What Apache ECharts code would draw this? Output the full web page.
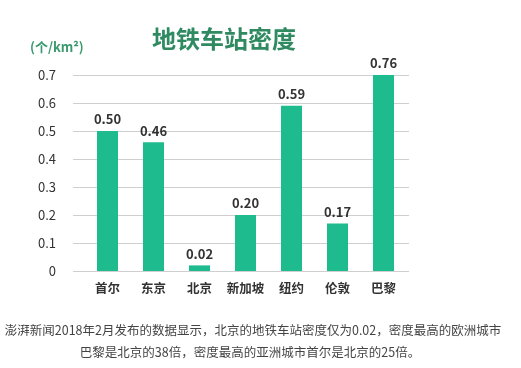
<!DOCTYPE html>
<html><head><meta charset="utf-8">
<script src="https://cdn.jsdelivr.net/npm/echarts@6/dist/echarts.min.js"></script>
<style>html,body{margin:0;padding:0;background:#fff}#c{width:521px;height:368px}</style>
</head><body><div id="c"></div>
<script>
const categories = ['首尔','东京','北京','新加坡','纽约','伦敦','巴黎'];
const density = [0.50, 0.46, 0.02, 0.20, 0.59, 0.17, 0.76];
const yTicks = [0, 0.1, 0.2, 0.3, 0.4, 0.5, 0.6, 0.7];
const titleText = '地铁车站密度';
const unitText = '(个/km²)';
const captionLines = ['澎湃新闻2018年2月发布的数据显示，北京的地铁车站密度仅为0.02，密度最高的欧洲城市','巴黎是北京的38倍，密度最高的亚洲城市首尔是北京的25倍。'];

const font = '"Noto Sans CJK SC", "Noto Sans", sans-serif';
const chart = echarts.init(document.getElementById('c'), null, {renderer:'canvas'});
chart.setOption({
  animation:false,
  backgroundColor:'#fff',
  textStyle:{fontFamily:font},
  graphic:[
    {type:'text', x:224, y:39, style:{text:titleText, align:'center', verticalAlign:'middle',
      fontSize:24, fontWeight:'bold', fontFamily:font, fill:'#2f8a62'}},
    {type:'text', x:30, y:47, style:{text:unitText, align:'left', verticalAlign:'middle',
      fontSize:13, fontWeight:'bold', fontFamily:font, fill:'#3a9a6e'}},
    {type:'text', x:253, y:330, style:{text:captionLines[0], align:'center', verticalAlign:'middle',
      fontSize:12.5, fontWeight:'normal', fontFamily:font, fill:'#444'}},
    {type:'text', x:250, y:352, style:{text:captionLines[1], align:'center', verticalAlign:'middle',
      fontSize:12.5, fontWeight:'normal', fontFamily:font, fill:'#444'}}
  ],
  grid:[
    {left:73, right:112, top:75, bottom:97},
    {left:84.5, right:114.5, top:75, bottom:97}
  ],
  xAxis:[
    {gridIndex:0, type:'category', data:categories, show:false},
    {gridIndex:1, type:'category', data:categories,
     axisLine:{show:false}, axisTick:{show:false},
     axisLabel:{interval:0, margin:11, fontSize:12.5, fontWeight:'bold', color:'#333', fontFamily:font}}
  ],
  yAxis:[
    {gridIndex:0, type:'value', min:0, max:0.7, interval:0.1,
     axisLine:{show:false}, axisTick:{show:false},
     axisLabel:{margin:17, fontSize:13, color:'#333', fontFamily:font,
       formatter:v=>{const t=yTicks.find(x=>Math.abs(x-v)<1e-9); return t===0?'0':(t!==undefined?t.toFixed(1):'');}},
     splitLine:{lineStyle:{color:'#cfcfcf', width:1}}},
    {gridIndex:1, type:'value', min:0, max:0.7, interval:0.1, show:false, splitLine:{show:false}}
  ],
  series:[{
    type:'bar', xAxisIndex:1, yAxisIndex:1, data:density, barWidth:21, clip:true,
    itemStyle:{color:'#1dbb8e'},
    label:{show:true, position:'top', distance:5, formatter:p=>density[p.dataIndex].toFixed(2),
      fontSize:13, fontWeight:'bold', color:'#333', fontFamily:font}
  }]
});
</script></body></html>
